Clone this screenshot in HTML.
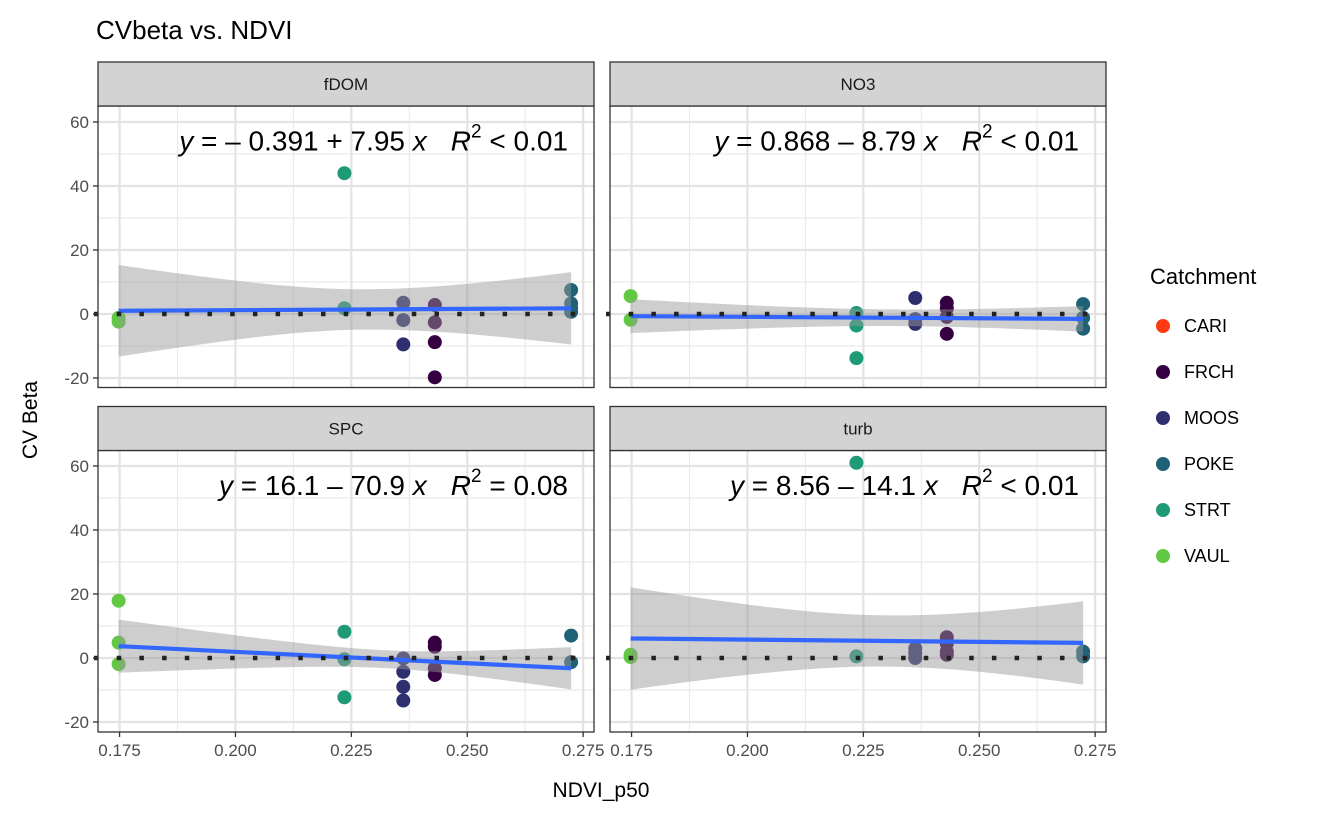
<!DOCTYPE html>
<html><head><meta charset="utf-8"><style>
body{margin:0;background:#fff;}
svg{font-family:"Liberation Sans",Arial,sans-serif;}
</style></head><body>
<svg id="chart" width="1322" height="817" xmlns="http://www.w3.org/2000/svg">
<text x="96" y="39" font-size="26" fill="#000">CVbeta vs. NDVI</text>
<text transform="translate(37,420) rotate(-90)" text-anchor="middle" font-size="21" fill="#000">CV Beta</text>
<text x="601" y="797" text-anchor="middle" font-size="21" fill="#000">NDVI_p50</text>
<g id="panels"></g>
<g id="legend">
<text x="1150" y="284" font-size="22" fill="#000">Catchment</text>
</g>
</svg>
<script>
const catchments = ["CARI","FRCH","MOOS","POKE","STRT","VAUL"];
const catColors = ["#FF3A12","#340042","#2E2F6E","#1F6277","#1E9A77","#62C844"];
const facets = ["fDOM","NO3","SPC","turb"];
const xTicks = [0.175,0.200,0.225,0.250,0.275];
const xTickLabels = ["0.175","0.200","0.225","0.250","0.275"];
const yTicks = [-20,0,20,40,60];
const siteX = {FRCH:0.2430, MOOS:0.2362, POKE:0.2724, STRT:0.2235, VAUL:0.1748};
const fDOMvals = {VAUL:[-2.4,-1.2],STRT:[44,1.8],MOOS:[3.5,-1.9,-9.5],FRCH:[2.8,-2.6,-8.8,-19.8],POKE:[7.5,3.3,0.7,1.8]};
const NO3vals  = {VAUL:[5.6,-1.8],STRT:[0.3,-3.6,-13.8],MOOS:[5,-1.6,-3.1],FRCH:[3.5,1.7,-0.9,-6.2],POKE:[3.1,-1.2,-4.6]};
const SPCvals  = {VAUL:[17.9,4.8,-1.9],STRT:[8.2,-0.4,-12.3],MOOS:[-0.1,-4.3,-9,-13.3],FRCH:[4.8,3.5,-3.2,-5.3],POKE:[7,-1.3]};
const turbvals = {VAUL:[1,0.3],STRT:[61,0.5],MOOS:[3,1.5,0],FRCH:[6.5,4.5,2,1],POKE:[2,0.5]};
const intercepts = [-0.391,0.868,16.1,8.56];
const slopes = [7.95,-8.79,-70.9,-14.1];
const bandLeft = [14.3,5.3,8.3,16];
const bandMin = [6.3,2.6,2.8,8];
const bandRight = [11.3,4.0,6.6,13];
const bandCenter = [0.228,0.232,0.232,0.230];
const eqText = [["= \u2013 0.391 + 7.95 ","< 0.01"],["= 0.868 \u2013 8.79 ","< 0.01"],["= 16.1 \u2013 70.9 ","= 0.08"],["= 8.56 \u2013 14.1 ","< 0.01"]];

const NS="http://www.w3.org/2000/svg";
function mk(tag,attrs,parent){const e=document.createElementNS(NS,tag);for(const k in attrs)e.setAttribute(k,attrs[k]);parent.appendChild(e);return e;}
const panelsG=document.getElementById('panels');
const xMin=0.17035, xScale=4636, yZero=[314,658], yScale=3.2;
const pLeft=[98,610,98,610], pTop=[106,106,450.5,450.5], pW=496, pH=281.5;
const allVals=[fDOMvals,NO3vals,SPCvals,turbvals];
const xs=(p,v)=>pLeft[p]+(v-xMin)*xScale;
const ys=(p,v)=>yZero[Math.floor(p/2)]-v*yScale;

facets.forEach((f,p)=>{
  const g=mk('g',{},panelsG);
  
  
  const L=pLeft[p],T=pTop[p];
  const cp=mk('clipPath',{id:'clip'+p},g);
  mk('rect',{x:L,y:T,width:pW,height:pH},cp);
  mk('rect',{x:L,y:T,width:pW,height:pH,fill:'#fff'},g);
  const grid=mk('g',{'clip-path':'url(#clip'+p+')'},g);
  for(let i=-1;i<xTicks.length;i++){const v=(i<0?xTicks[0]-0.025:xTicks[i])+0.0125;mk('line',{x1:xs(p,v),x2:xs(p,v),y1:T,y2:T+pH,stroke:'#ebebeb','stroke-width':1.2},grid);}
  for(let i=-1;i<yTicks.length;i++){const v=(i<0?-40:yTicks[i])+10;mk('line',{x1:L,x2:L+pW,y1:ys(p,v),y2:ys(p,v),stroke:'#ebebeb','stroke-width':1.2},grid);}
  xTicks.forEach(v=>mk('line',{x1:xs(p,v),x2:xs(p,v),y1:T,y2:T+pH,stroke:'#e3e3e3','stroke-width':2.2},grid));
  yTicks.forEach(v=>mk('line',{x1:L,x2:L+pW,y1:ys(p,v),y2:ys(p,v),stroke:'#e3e3e3','stroke-width':2.2},grid));
  const vals=allVals[p];
  Object.keys(vals).forEach(site=>{
    const col=catColors[catchments.indexOf(site)];
    vals[site].forEach(v=>{
      const c=mk('circle',{cx:xs(p,siteX[site]),cy:ys(p,v),r:7,fill:col},grid);
      
      
    });
  });
  const xa=siteX.VAUL, xb=siteX.POKE, xc=bandCenter[p];
  const kL=(bandLeft[p]**2-bandMin[p]**2)/((xa-xc)**2), kR=(bandRight[p]**2-bandMin[p]**2)/((xb-xc)**2);
  const hw=x=>Math.sqrt(bandMin[p]**2+(x<xc?kL:kR)*(x-xc)**2);
  const fit=x=>intercepts[p]+slopes[p]*x;
  let up=[],lo=[];
  for(let i=0;i<=60;i++){const x=xa+(xb-xa)*i/60;up.push(xs(p,x)+','+ys(p,fit(x)+hw(x)));lo.unshift(xs(p,x)+','+ys(p,fit(x)-hw(x)));}
  const band=mk('polygon',{points:up.concat(lo).join(' '),fill:'#999','fill-opacity':0.48},grid);
  
  
  const hl=mk('line',{x1:L-4,x2:L+pW,y1:ys(p,0),y2:ys(p,0),stroke:'#222','stroke-width':4.5,'stroke-dasharray':'4.5 18.2'},g);
  
  
  const fl=mk('line',{x1:xs(p,xa),x2:xs(p,xb),y1:ys(p,fit(xa)),y2:ys(p,fit(xb)),stroke:'#3366FF','stroke-width':4.2},grid);
  
  
  const ex=(p%2===0)?568:1079, ey=T+44.5;
  const t=mk('text',{x:ex,y:ey,'text-anchor':'end','font-size':28,fill:'#000'},g);
  
  
  t.innerHTML='<tspan font-style="italic">y</tspan> '+eqText[p][0]+'<tspan font-style="italic">x</tspan><tspan dx="24" font-style="italic">R</tspan><tspan font-size="19" dy="-13">2</tspan><tspan dy="13"> '+eqText[p][1]+'</tspan>';
  mk('rect',{x:L,y:T,width:pW,height:pH,fill:'none',stroke:'#333','stroke-width':1.3},g);
  const s=mk('rect',{x:L,y:T-44,width:pW,height:44,fill:'#d3d3d3',stroke:'#333','stroke-width':1.3},g);
  
  
  const st=mk('text',{x:L+pW/2,y:T-16,'text-anchor':'middle','font-size':17,fill:'#1a1a1a'},g);
  st.textContent=f;
  
  
  if(p%2===0){yTicks.forEach(v=>{
    mk('line',{x1:L-5,x2:L,y1:ys(p,v),y2:ys(p,v),stroke:'#333','stroke-width':1.3},g);
    const tl=mk('text',{x:L-9,y:ys(p,v)+6,'text-anchor':'end','font-size':17,fill:'#4d4d4d'},g);
    tl.textContent=String(v);
    
    
  });}
  if(p>=2){xTicks.forEach((v,i)=>{
    mk('line',{x1:xs(p,v),x2:xs(p,v),y1:T+pH,y2:T+pH+5,stroke:'#333','stroke-width':1.3},g);
    const tl=mk('text',{x:xs(p,v),y:T+pH+24,'text-anchor':'middle','font-size':17,fill:'#4d4d4d'},g);
    tl.textContent=xTickLabels[i];
    
    
  });}
});
const lg=document.getElementById('legend');
catchments.forEach((c,i)=>{
  const y=326+i*46;
  const d=mk('circle',{cx:1163,cy:y,r:7,fill:catColors[i]},lg);
  
  
  const t=mk('text',{x:1184,y:y+6,'font-size':18,fill:'#000'},lg);
  t.textContent=c;
  
  
});
</script>
</body></html>
